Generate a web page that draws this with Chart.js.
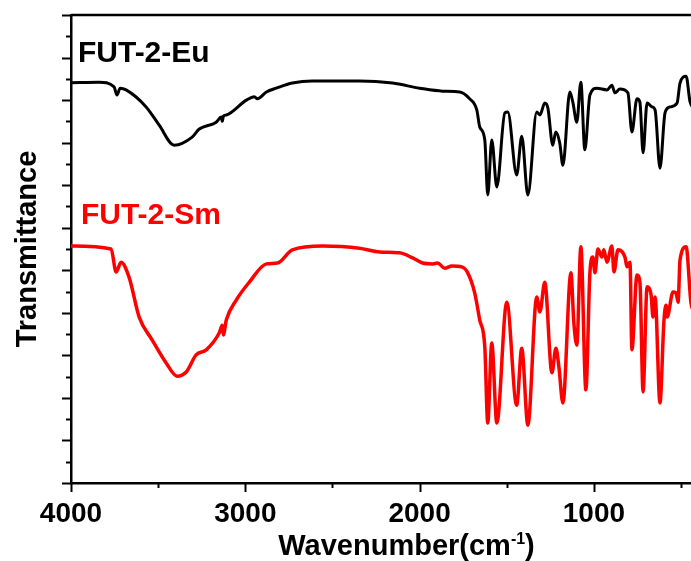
<!DOCTYPE html>
<html>
<head>
<meta charset="utf-8">
<script src="https://cdn.jsdelivr.net/npm/chart.js@4/dist/chart.umd.min.js"></script>
<style>
  html, body { margin: 0; padding: 0; background: #fff; }
  #wrap { width: 691px; height: 561px; }
</style>
</head>
<body>
<div id="wrap"><canvas id="ftir"></canvas></div>
<script>
// FUT-2-Eu (black)
const euWn = [4000, 3839, 3753, 3736, 3718, 3684, 3569, 3494, 3408, 3305, 3264, 3167, 3138, 3132, 3126, 3109, 2994, 2948, 2931, 2879, 2822, 2730, 2615, 2345, 2155, 2000, 1868, 1770, 1713, 1672, 1655, 1626, 1609, 1586, 1557, 1511, 1494, 1443, 1414, 1379, 1328, 1310, 1282, 1264, 1236, 1219, 1196, 1178, 1138, 1121, 1098, 1075, 1052, 1023, 983, 925, 897, 879, 851, 805, 782, 753, 736, 718, 695, 667, 649, 621, 592, 563, 523, 506, 471, 448, 420];
const euT = [94.1, 94.2, 93.1, 91.2, 92.8, 92.4, 88.4, 84.1, 79.4, 81.3, 83.2, 84.8, 86.0, 85.0, 86.2, 86.5, 90.0, 90.8, 90.3, 91.9, 92.8, 94.0, 94.5, 94.5, 94.0, 92.8, 92.1, 91.9, 90.3, 87.7, 83.7, 80.6, 67.7, 80.6, 69.6, 87.0, 87.2, 72.4, 81.5, 67.7, 87.2, 86.5, 89.3, 88.1, 79.4, 82.5, 79.9, 74.7, 91.9, 89.5, 84.8, 94.2, 78.3, 91.2, 92.8, 92.4, 93.5, 91.7, 92.6, 91.7, 82.5, 90.3, 89.5, 77.6, 89.3, 88.4, 87.7, 74.0, 87.0, 88.4, 89.3, 94.0, 95.6, 89.5, 88];

// FUT-2-Sm (red)
const smWn = [4000, 3770, 3741, 3713, 3667, 3609, 3534, 3454, 3391, 3339, 3282, 3224, 3149, 3132, 3126, 3109, 3052, 2977, 2879, 2816, 2730, 2557, 2345, 2230, 2115, 2040, 1983, 1925, 1897, 1856, 1816, 1759, 1724, 1684, 1655, 1626, 1609, 1586, 1557, 1500, 1443, 1414, 1379, 1328, 1310, 1282, 1241, 1218, 1201, 1178, 1132, 1115, 1098, 1075, 1046, 1023, 1006, 994, 977, 954, 943, 925, 897, 885, 862, 822, 810, 793, 782, 753, 736, 718, 695, 672, 661, 649, 621, 598, 586, 580, 546, 529, 517, 506, 471, 443, 420];
const smT = [55.7, 55.0, 49.6, 51.9, 48.4, 39.0, 33.6, 28.2, 25.1, 26.1, 30.1, 31.3, 35.3, 37.1, 34.8, 38.3, 43.0, 47.2, 51.5, 51.7, 54.8, 55.7, 55.2, 54.3, 54.1, 52.9, 51.7, 51.5, 51.7, 50.5, 51.0, 50.8, 49.4, 44.7, 38.3, 32.0, 14.1, 32.9, 14.1, 42.5, 18.3, 31.7, 13.6, 43.7, 40.2, 47.2, 25.9, 31.7, 27.3, 18.8, 49.4, 37.6, 32.4, 55.5, 21.9, 49.4, 53.1, 49.4, 55.0, 53.1, 54.8, 51.9, 55.7, 49.6, 54.8, 53.1, 50.8, 51.9, 31.3, 48.9, 47.2, 21.4, 46.1, 44.2, 39.0, 43.7, 18.8, 38.3, 41.8, 39.0, 44.9, 44.7, 42.5, 52.4, 55.5, 42.3, 40];

// ticks: labels only on the 1000s, minor marks in between
const xTickValues = [4000, 3500, 3000, 2500, 2000, 1500, 1000, 500];
const xTickLabels = ["4000", "", "3000", "", "2000", "", "1000", ""];
const yTickValues = [];
for (let v = 0; v <= 110; v += 5) yTickValues.push(v);

const FONT = "'Liberation Sans', Arial, sans-serif";

const toPoints = (xs, ys) => xs.map((x, i) => ({ x, y: ys[i] }));

// frame top line, tick marks, sample labels, x title with superscript
const axisDecor = {
  id: "axisDecor",
  afterDraw(chart) {
    const { ctx, chartArea: a, scales: { x, y } } = chart;
    ctx.save();
    ctx.strokeStyle = "#000";
    ctx.lineWidth = 2.5;
    ctx.beginPath();
    ctx.moveTo(a.left, a.top);
    ctx.lineTo(a.right, a.top);
    ctx.stroke();

    ctx.lineWidth = 2;
    yTickValues.forEach(v => {
      const py = Math.round(y.getPixelForValue(v)) + 0.5;
      const len = v % 10 === 0 ? 9 : 5;
      ctx.beginPath();
      ctx.moveTo(a.left - len, py);
      ctx.lineTo(a.left, py);
      ctx.stroke();
    });
    xTickValues.forEach(v => {
      const px = Math.round(x.getPixelForValue(v)) + 0.5;
      const len = v % 1000 === 0 ? 9 : 5;
      ctx.beginPath();
      ctx.moveTo(px, a.bottom);
      ctx.lineTo(px, a.bottom + len);
      ctx.stroke();
    });

    // sample names
    ctx.textBaseline = "alphabetic";
    ctx.textAlign = "left";
    ctx.font = "bold 30px " + FONT;
    ctx.fillStyle = "#000";
    ctx.fillText("FUT-2-Eu", x.getPixelForValue(3960), y.getPixelForValue(98.9));
    ctx.fillStyle = "#ff0000";
    ctx.fillText("FUT-2-Sm", x.getPixelForValue(3943), y.getPixelForValue(60.9));

    // x title: Wavenumber(cm-1)
    ctx.fillStyle = "#000";
    const main = "Wavenumber(cm";
    const sup = "-1";
    const close = ")";
    const bigFont = "bold 29px " + FONT;
    const smallFont = "bold 16px " + FONT;
    ctx.font = bigFont;
    const w1 = ctx.measureText(main).width;
    const w3 = ctx.measureText(close).width;
    ctx.font = smallFont;
    const w2 = ctx.measureText(sup).width;
    const cx = x.getPixelForValue(2075);
    const base = 555;
    let sx = cx - (w1 + w2 + w3) / 2;
    ctx.font = bigFont;
    ctx.fillText(main, sx, base);
    sx += w1;
    ctx.font = smallFont;
    ctx.fillText(sup, sx, base - 11);
    sx += w2;
    ctx.font = bigFont;
    ctx.fillText(close, sx, base);
    ctx.restore();
  }
};

new Chart(document.getElementById("ftir"), {
  type: "line",
  data: {
    datasets: [
      {
        label: "FUT-2-Eu",
        data: toPoints(euWn, euT),
        borderColor: "#000000",
        borderWidth: 3,
        pointRadius: 0,
        cubicInterpolationMode: "monotone"
      },
      {
        label: "FUT-2-Sm",
        data: toPoints(smWn, smT),
        borderColor: "#ff0000",
        borderWidth: 3.5,
        pointRadius: 0,
        cubicInterpolationMode: "monotone"
      }
    ]
  },
  options: {
    responsive: true,
    maintainAspectRatio: false,
    animation: false,
    layout: { padding: { top: 15, left: 0, right: 0, bottom: 0 } },
    plugins: { legend: { display: false }, tooltip: { enabled: false } },
    scales: {
      x: {
        type: "linear",
        reverse: true,
        min: 443,
        max: 4000,
        grid: { display: false },
        border: { display: true, color: "#000", width: 2.5 },
        afterBuildTicks: s => { s.ticks = xTickValues.map(v => ({ value: v })); },
        afterFit: s => { s.height = 78; },
        ticks: {
          autoSkip: false,
          maxRotation: 0,
          padding: 6,
          color: "#000",
          font: { family: FONT, size: 28, weight: "bold" },
          callback: v => xTickLabels[xTickValues.indexOf(v)] ?? ""
        }
      },
      y: {
        min: 0,
        max: 110,
        grid: { display: false },
        border: { display: true, color: "#000", width: 2.5 },
        afterBuildTicks: s => { s.ticks = yTickValues.map(v => ({ value: v })); },
        afterFit: s => { s.width = 71; },
        ticks: { display: false },
        title: {
          display: true,
          text: "Transmittance",
          color: "#000",
          font: { family: FONT, size: 29, weight: "bold" },
          padding: { top: 11, bottom: 0 }
        }
      }
    }
  },
  plugins: [axisDecor]
});
</script>
</body>
</html>
